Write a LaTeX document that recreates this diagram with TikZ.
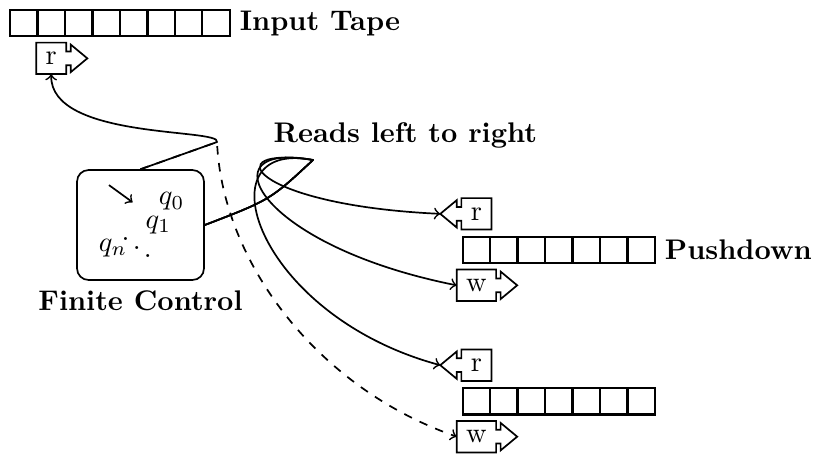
\documentclass[tikz,border=0pt]{standalone}
\usetikzlibrary{positioning}
\tikzset{
  cell/.style={draw, thick, minimum width=0.34cm, minimum height=0.325cm, inner sep=0pt, outer sep=0pt},
  headbox/.style={outer sep=0pt},
  wire/.style={->, semithick, line join=round},
}
\newcommand{\headright}[1]{%
  \draw[semithick] (#1.north west) -- (#1.north east) -- ([yshift=0.085cm]#1.east) -- ++(0.056,0) -- ++(0,0.085)
    -- ([xshift=0.261cm]#1.east) coordinate (#1-tip) -- ([xshift=0.056cm,yshift=-0.17cm]#1.east) -- ++(0,0.085)
    -- ([yshift=-0.085cm]#1.east) -- (#1.south east) -- (#1.south west) -- cycle;}
\newcommand{\headleft}[1]{%
  \draw[semithick] (#1.north east) -- (#1.north west) -- ([yshift=0.085cm]#1.west) -- ++(-0.056,0) -- ++(0,0.085)
    -- ([xshift=-0.261cm]#1.west) coordinate (#1-tip) -- ([xshift=-0.056cm,yshift=-0.17cm]#1.west) -- ++(0,0.085)
    -- ([yshift=-0.085cm]#1.west) -- (#1.south west) -- (#1.south east) -- cycle;}
\begin{document}
\begin{tikzpicture}
  \useasboundingbox (0,0) rectangle (10.087,5.619);
  \foreach \i in {1,...,8}
    \node[cell] (in\i) at ({0.124+0.34*(\i-0.5)},5.334) {};
  \node[right] (intape) at (in8.east) {\textbf{Input Tape}};
  \node[headbox, below=0.08cm of in2] (rin) {r};
  \headright{rin}

  \foreach \i in {1,...,7} {
    \node[cell] (pa\i) at ({5.726+0.34*(\i-0.5)},2.525) {};
    \node[cell] (pb\i) at ({5.726+0.34*(\i-0.5)},0.652) {};
  }
  \node[right] (pushdown) at (pa7.east) {\textbf{Pushdown}};
  \node[headbox, above=0.09cm of pa1] (ra) {r};
  \node[headbox, below=0.08cm of pa1] (wa) {w};
  \node[headbox, above=0.09cm of pb1] (rb) {r};
  \node[headbox, below=0.08cm of pb1] (wb) {w};
  \headleft{ra} \headright{wa} \headleft{rb} \headright{wb}

  \node[draw, semithick, rounded corners, minimum width=1.57cm, minimum height=1.36cm] (fc) at (1.739,2.834) {};
  \node[below] (fclabel) at (fc.south) {\textbf{Finite Control}};
  \node[anchor=base west, inner sep=0pt] (q0) at (1.959,3.082) {$q_0$};
  \node[anchor=base west, inner sep=0pt] (q1) at (1.795,2.788) {$q_1$};
  \node[anchor=base west, inner sep=0pt] (qn) at (1.217,2.504) {$q_n$};
  \node[inner sep=0pt] (qdots) at (1.692,2.658) {$\ddots$};
  \coordinate (init) at (1.349,3.328);
  \coordinate (initend) at (1.642,3.115);
  \draw[->, semithick] (init) -- (initend);

  \coordinate (t1) at (2.686,3.861);
  \coordinate (t2) at (3.874,3.639);
  \draw[wire] (fc.north) -- (t1) .. controls (2.748,4.035) and (0.619,3.886) .. (rin.south);
  \draw[wire, dashed] (fc.north) -- (t1) .. controls (2.748,2.401) and (3.899,0.829) .. (wb.west);
  \draw[wire] (fc.east) .. controls (3.342,3.144) .. (t2) .. controls (2.661,3.824) and (3.094,3.082) .. (ra-tip);
  \draw[wire] (fc.east) .. controls (3.342,3.144) .. (t2) .. controls (2.537,3.886) and (3.156,2.587) .. (wa.west);
  \draw[wire] (fc.east) .. controls (3.342,3.144) .. (t2) .. controls (2.475,3.911) and (3.156,1.720) .. (rb-tip);
  \node (reads) at (5.016,3.94) {\textbf{Reads left to right}};
\end{tikzpicture}
\end{document}
